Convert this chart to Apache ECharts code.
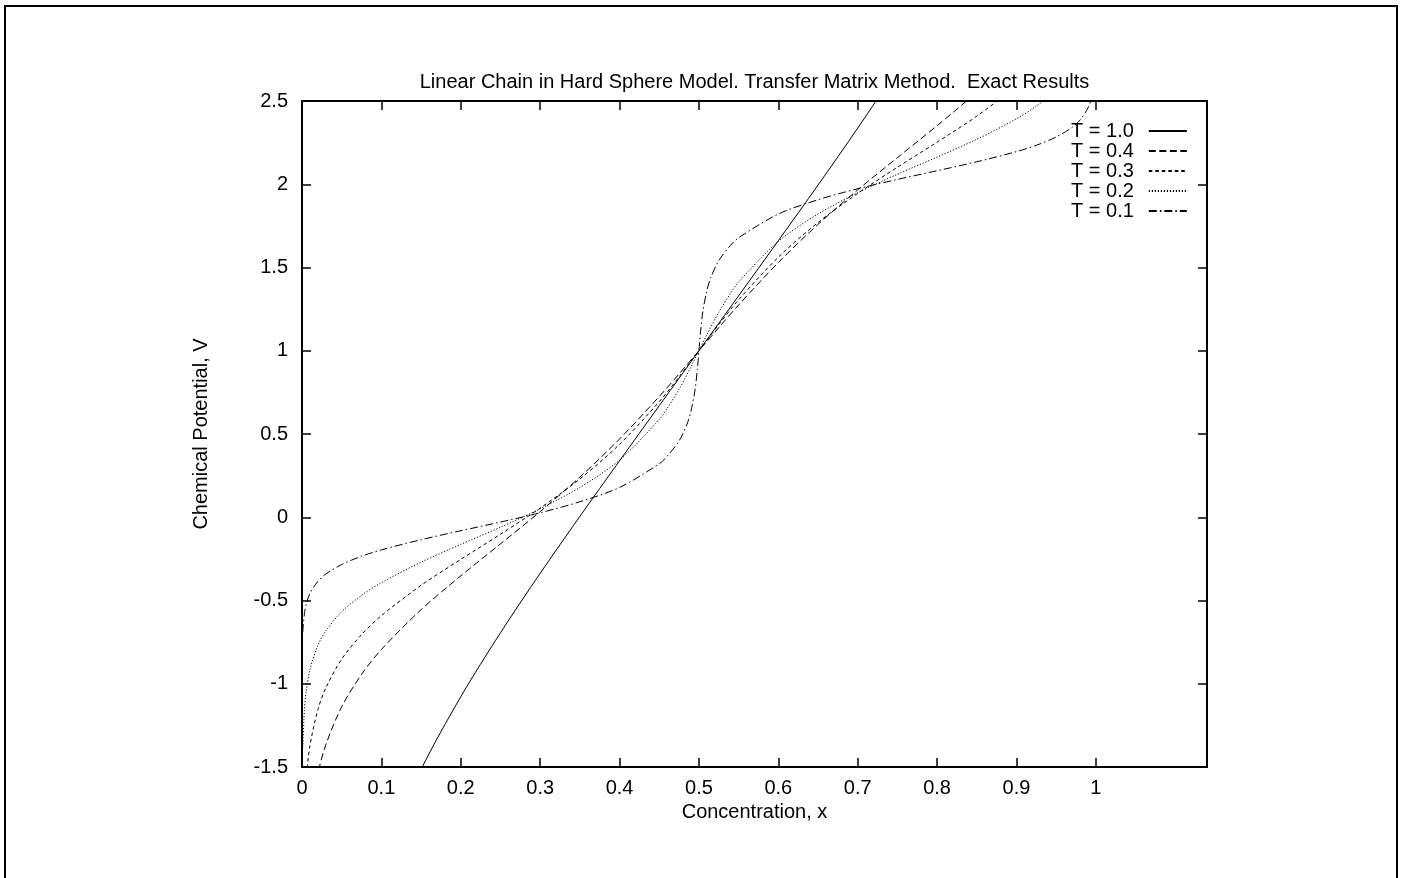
<!DOCTYPE html>
<html>
<head>
<meta charset="utf-8">
<script src="https://cdn.jsdelivr.net/npm/echarts@6/dist/echarts.min.js"></script>
<style>
html,body{margin:0;padding:0;background:#fff;}
#c{width:1403px;height:878px;}
</style>
</head>
<body>
<div id="c"></div>
<script>
// ---- data ----
const seriesNames = ['T = 1.0', 'T = 0.4', 'T = 0.3', 'T = 0.2', 'T = 0.1'];

const xT10 = [0.1,0.15,0.2,0.25,0.3,0.35,0.4,0.45,0.5,0.55,0.6,0.65,0.7,0.75,0.8];
const vT10 = [-2.058,-1.515,-1.078,-0.694,-0.337,0.005,0.339,0.670,1.000,1.330,1.661,1.995,2.337,2.694,3.078];

const xT04 = [0.01,0.02,0.03,0.05,0.075,0.1,0.15,0.2,0.25,0.3,0.35,0.4,0.45,0.475,0.5,0.525,0.55,0.6,0.65,0.7,0.75,0.8,0.85,0.9];
const vT04 = [-1.831,-1.542,-1.367,-1.138,-0.944,-0.794,-0.555,-0.352,-0.160,0.034,0.241,0.470,0.725,0.861,1.000,1.139,1.275,1.530,1.759,1.966,2.160,2.352,2.555,2.794];

const xT03 = [0.003,0.005,0.01,0.02,0.03,0.05,0.075,0.1,0.15,0.2,0.25,0.3,0.35,0.4,0.45,0.475,0.5,0.525,0.55,0.6,0.65,0.7,0.75,0.8,0.85,0.9,0.925,0.95];
const vT03 = [-1.740,-1.585,-1.373,-1.156,-1.025,-0.852,-0.705,-0.591,-0.409,-0.253,-0.102,0.055,0.230,0.438,0.694,0.843,1.000,1.157,1.306,1.562,1.770,1.945,2.102,2.253,2.409,2.591,2.705,2.852];

const xT02 = [0.001,0.003,0.005,0.01,0.02,0.03,0.05,0.075,0.1,0.15,0.2,0.25,0.3,0.35,0.4,0.45,0.46,0.475,0.49,0.5,0.51,0.525,0.54,0.55,0.6,0.65,0.7,0.75,0.8,0.85,0.9,0.925,0.95,0.97,0.98];
const vT02 = [-1.381,-1.160,-1.057,-0.915,-0.770,-0.683,-0.567,-0.469,-0.393,-0.270,-0.163,-0.060,0.051,0.179,0.343,0.587,0.654,0.769,0.904,1.000,1.096,1.231,1.346,1.413,1.657,1.821,1.949,2.060,2.163,2.270,2.393,2.469,2.567,2.683,2.770];

const xT01 = [0.001,0.003,0.005,0.01,0.02,0.03,0.05,0.075,0.1,0.15,0.2,0.25,0.3,0.35,0.4,0.45,0.46,0.475,0.485,0.49,0.495,0.498,0.5,0.502,0.505,0.51,0.515,0.525,0.54,0.55,0.6,0.65,0.7,0.75,0.8,0.85,0.9,0.925,0.95,0.97,0.98,0.99,0.995,0.997,0.999];
const vT01 = [-0.690,-0.580,-0.528,-0.458,-0.385,-0.341,-0.284,-0.234,-0.196,-0.135,-0.081,-0.029,0.027,0.093,0.179,0.321,0.366,0.459,0.560,0.638,0.763,0.887,1.000,1.113,1.237,1.362,1.440,1.541,1.634,1.679,1.821,1.907,1.973,2.029,2.081,2.135,2.196,2.234,2.284,2.341,2.385,2.458,2.528,2.580,2.690];

const xTickValues = [0,0.1,0.2,0.3,0.4,0.5,0.6,0.7,0.8,0.9,1];

const titleText = 'Linear Chain in Hard Sphere Model. Transfer Matrix Method.  Exact Results';
const xName = 'Concentration, x';
const yName = 'Chemical Potential, V';

// ---- chart ----
const font = "'Liberation Sans', Arial, Helvetica, sans-serif";
const dashTypes = ['solid', [7, 3.5], [3.5, 3], [1.2, 1.8], [8, 3, 1.5, 3]];
const xs = [xT10, xT04, xT03, xT02, xT01];
const vs = [vT10, vT04, vT03, vT02, vT01];

const series = seriesNames.map((name, i) => ({
  name: name,
  type: 'line',
  data: xs[i].map((x, j) => [x, vs[i][j]]),
  symbol: 'none',
  showSymbol: false,
  smooth: 0.3,
  clip: true,
  lineStyle: { color: '#000', width: 1, type: dashTypes[i] },
  itemStyle: { color: '#000' },
  emphasis: { disabled: true },
  z: 3
}));

const frameLine = { show: true, onZero: false, lineStyle: { color: '#000', width: 2 } };
const tick = { show: true, inside: true, length: 9, customValues: xTickValues, lineStyle: { color: '#000', width: 1.5 } };
const ytick = { show: true, inside: true, length: 9, lineStyle: { color: '#000', width: 1.5 } };
const labelStyle = { fontFamily: font, fontSize: 20, color: '#000' };

const option = {
  animation: false,
  backgroundColor: '#fff',
  title: {
    text: titleText,
    left: 754.5,
    top: 72,
    textAlign: 'center',
    padding: 0,
    textStyle: { fontFamily: font, fontSize: 20, fontWeight: 'normal', color: '#000' }
  },
  grid: { left: 302, top: 101, width: 905, height: 666, containLabel: false },
  legend: {
    orient: 'vertical',
    left: 1071,
    top: 121,
    align: 'right',
    padding: 0,
    itemWidth: 38,
    itemHeight: 21,
    itemGap: 0,
    selectedMode: false,
    data: seriesNames,
    itemStyle: { opacity: 0, borderWidth: 0 },
    textStyle: { fontFamily: font, fontSize: 20, color: '#000', padding: [0, 10, 0, 0] }
  },
  xAxis: [
    {
      type: 'value', min: 0, max: 1.14, interval: 0.1, position: 'bottom',
      name: xName, nameLocation: 'middle', nameGap: 32,
      nameTextStyle: labelStyle,
      axisLine: frameLine,
      axisTick: tick,
      axisLabel: Object.assign({ customValues: xTickValues, margin: 11 }, labelStyle),
      splitLine: { show: false }
    },
    {
      type: 'value', min: 0, max: 1.14, interval: 0.1, position: 'top',
      axisLine: frameLine,
      axisTick: tick,
      axisLabel: { show: false },
      splitLine: { show: false }
    }
  ],
  yAxis: [
    {
      type: 'value', min: -1.5, max: 2.5, interval: 0.5, position: 'left',
      name: yName, nameLocation: 'middle', nameGap: 91, nameRotate: 90,
      nameTextStyle: labelStyle,
      axisLine: frameLine,
      axisTick: ytick,
      axisLabel: Object.assign({ margin: 14 }, labelStyle),
      splitLine: { show: false }
    },
    {
      type: 'value', min: -1.5, max: 2.5, interval: 0.5, position: 'right',
      axisLine: frameLine,
      axisTick: ytick,
      axisLabel: { show: false },
      splitLine: { show: false }
    }
  ],
  graphic: [
    {
      type: 'rect',
      shape: { x: 5, y: 6, width: 1392, height: 880 },
      style: { fill: 'none', stroke: '#000', lineWidth: 2 },
      silent: true,
      z: 0
    }
  ],
  series: series
};

const chart = echarts.init(document.getElementById('c'), null, { renderer: 'canvas' });
chart.setOption(option);
</script>
</body>
</html>
